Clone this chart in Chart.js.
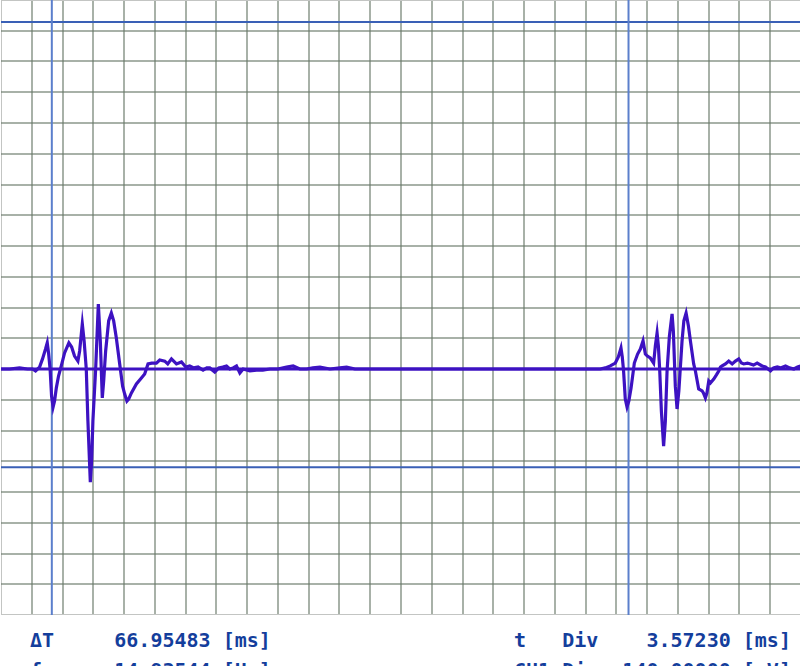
<!DOCTYPE html>
<html>
<head>
<meta charset="utf-8">
<script src="https://cdn.jsdelivr.net/npm/chart.js@4.4.1/dist/chart.umd.min.js"></script>
<style>
  html, body { margin: 0; padding: 0; background: #ffffff; overflow: hidden; width: 800px; height: 666px; }
  #wrap { position: absolute; left: 1px; top: 0px; width: 800px; height: 615px; }
  .ro { position: absolute; font-family: "DejaVu Sans Mono", monospace; font-weight: bold; font-size: 20px; color: #143e9c; white-space: pre; line-height: 30px; }
</style>
</head>
<body>
<div id="wrap"><canvas id="c"></canvas></div>
<div class="ro" style="left:30px; top:625px;">ΔT     66.95483 [ms]
f      14.93544 [Hz]</div>
<div class="ro" style="left:514px; top:625px;">t   Div    3.57230 [ms]
CH1 Div  140.00000 [uV]</div>
<script>
// ---- data (time in ms, amplitude in µV) ----
const timeDiv = 3.5723;          // ms per division
const voltDiv = 140;             // µV per division
const xDivs = 26;
const yDivsBelow = 8;
const yDivsAbove = 12;

const signalTime = [0,0.99,2.15,3.08,3.66,4.01,4.48,4.82,5.17,5.37,5.52,5.70,5.87,6.05,6.22,6.42,6.68,7.00,7.38,7.88,8.20,8.54,8.93,9.13,9.44,9.65,9.90,10.09,10.37,10.52,10.67,10.99,11.30,11.53,11.76,11.92,12.15,12.50,12.81,13.08,13.39,13.78,14.12,14.36,14.62,14.82,15.14,15.72,16.30,16.68,17.07,17.50,18.04,18.43,19.01,19.36,19.79,20.37,20.95,21.45,21.91,22.38,22.88,23.46,23.89,24.24,24.82,25.28,25.75,26.18,26.56,26.95,27.34,27.73,28.11,28.89,29.67,30.40,31.21,32.14,33.15,33.92,34.70,35.48,36.21,37.03,38.19,39.35,40.13,41.09,46.33,57.95,69.58,70.16,70.74,71.32,71.67,71.98,72.13,72.28,72.48,72.68,72.89,73.15,73.53,73.91,74.23,74.54,74.81,75.04,75.39,75.77,75.97,76.17,76.32,76.47,76.67,76.93,77.13,77.33,77.60,77.91,78.06,78.29,78.49,78.70,79.07,79.28,79.54,79.81,80.04,80.42,80.62,81.00,81.40,81.55,81.78,81.96,82.17,82.36,82.75,83.06,83.33,83.53,83.72,84.11,84.49,84.89,85.27,85.65,85.97,86.23,86.66,87.01,87.36,87.79,88.37,88.76,89.34,89.69,90.12,90.50,91.08,91.55,92.05,92.48,92.83];
const signalValue = [0,0,5,0,0,-9,9,46,91,119,73,0,-123,-173,-146,-87,-32,14,73,119,100,59,36,82,205,128,0,-237,-515,-420,-237,0,296,128,-132,-55,82,219,255,219,141,23,-78,-114,-146,-137,-109,-68,-41,-23,23,27,27,41,36,23,46,23,32,9,14,5,9,-5,5,5,-14,5,9,14,0,5,14,-18,0,-9,-5,-5,0,0,9,14,0,0,5,9,0,5,9,0,0,0,0,5,14,27,55,96,55,-9,-137,-173,-146,-87,27,68,91,128,68,59,50,27,105,164,105,0,-192,-351,-237,-9,150,251,173,-78,-182,-100,128,219,255,196,128,23,-9,-91,-100,-109,-132,-109,-55,-64,-46,-27,-9,9,14,23,36,23,36,46,27,23,27,23,18,27,14,9,-9,5,9,5,14,5,0,9,14];

const cursorT1 = 5.90;                   // ms
const deltaT = 66.95483;                 // ms
const cursorT2 = cursorT1 + deltaT;      // ms
const cursorV1 = 1580;                   // µV
const cursorV2 = -447;                   // µV

// ---- derived ----
const xMax = xDivs * timeDiv;
const yMin = -yDivsBelow * voltDiv;
const yMax = yDivsAbove * voltDiv;
const signal = signalTime.map((t, i) => ({ x: t, y: signalValue[i] }));

const gridColor = (ctx, n) => (ctx.index === 0 || ctx.index === n) ? 'rgba(195,197,195,1)' : 'rgba(105,120,105,0.58)';

new Chart(document.getElementById('c'), {
  type: 'line',
  data: {
    datasets: [
      { data: signal, borderColor: '#3d12c2', borderWidth: 3.2, pointRadius: 0, tension: 0, order: 0 },
      { data: [{x:0,y:0},{x:xMax,y:0}], borderColor: '#3d12c2', borderWidth: 3, pointRadius: 0, order: 1 },
      { data: [{x:cursorT1,y:yMin},{x:cursorT1,y:yMax}], borderColor: '#5b7fcc', borderWidth: 2, pointRadius: 0, order: 2 },
      { data: [{x:cursorT2,y:yMin},{x:cursorT2,y:yMax}], borderColor: '#5b7fcc', borderWidth: 2, pointRadius: 0, order: 2 },
      { data: [{x:0,y:cursorV1},{x:xMax,y:cursorV1}], borderColor: '#3a60b6', borderWidth: 2, pointRadius: 0, order: 2 },
      { data: [{x:0,y:cursorV2},{x:xMax,y:cursorV2}], borderColor: '#3a60b6', borderWidth: 2, pointRadius: 0, order: 2 }
    ]
  },
  options: {
    responsive: true,
    maintainAspectRatio: false,
    animation: false,
    events: [],
    layout: { padding: 0 },
    plugins: { legend: { display: false }, tooltip: { enabled: false } },
    scales: {
      x: {
        type: 'linear', min: 0, max: xMax,
        afterBuildTicks: (s) => { s.ticks = Array.from({length: xDivs + 1}, (_, k) => ({ value: k * timeDiv })); },
        ticks: { display: false },
        border: { display: false },
        grid: { color: (ctx) => gridColor(ctx, xDivs), lineWidth: 2, drawTicks: false }
      },
      y: {
        type: 'linear', min: yMin, max: yMax,
        afterBuildTicks: (s) => { s.ticks = Array.from({length: yDivsBelow + yDivsAbove + 1}, (_, k) => ({ value: yMin + k * voltDiv })); },
        ticks: { display: false },
        border: { display: false },
        grid: { color: (ctx) => gridColor(ctx, yDivsBelow + yDivsAbove), lineWidth: 2, drawTicks: false }
      }
    }
  }
});
</script>
</body>
</html>
